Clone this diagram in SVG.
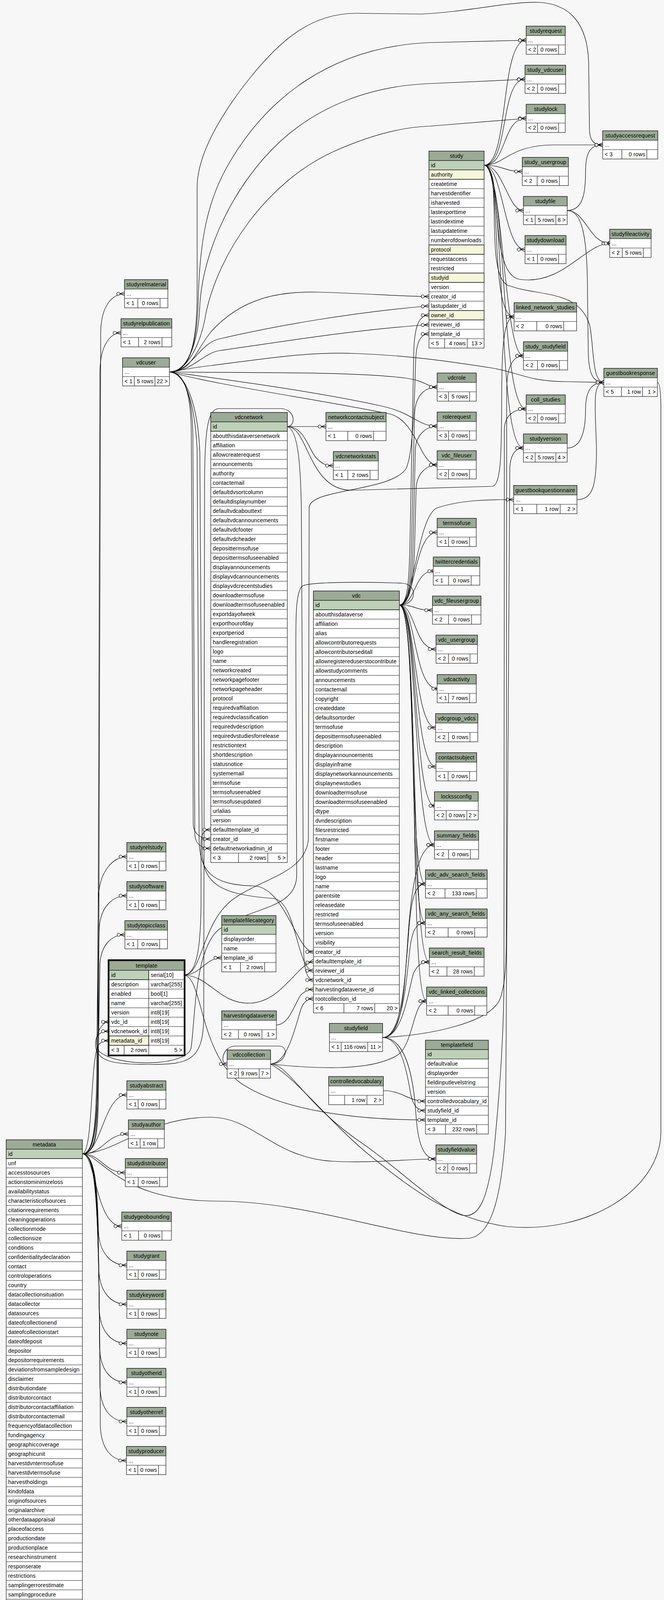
<svg xmlns="http://www.w3.org/2000/svg" width="1701" height="4556" viewBox="0 0 1701 4556">
<style>
text{font-family:"Liberation Sans",Arial,Helvetica,sans-serif;font-size:14px;letter-spacing:.2px;fill:#000}
.m{text-anchor:middle}
.r{text-anchor:end}
.t rect,.t path{stroke:#1a1a1a;stroke-width:1.2}
.t path{fill:none}
.w{fill:#fff}
.h{fill:#9bab96}
.pk{fill:#bed1b8}
.ix{fill:#f4f7da}
#connectors path{fill:none;stroke:#000;stroke-width:1.2}
#connectors .cr{marker-end:url(#crow)}
#connectors .on{marker-end:url(#one)}
</style>
<defs>
<marker id="crow" markerUnits="userSpaceOnUse" viewBox="-24 -10 30 20" markerWidth="30" markerHeight="20" refX="0" refY="0" orient="auto" overflow="visible">
<path d="M-12,0L0,-5M-12,0L0,0M-12,0L0,5" fill="none" stroke="#000" stroke-width="1.2"/>
<circle cx="-16" cy="0" r="4" fill="#f7f7f7" stroke="#000" stroke-width="1.2"/>
</marker>
<marker id="one" markerUnits="userSpaceOnUse" viewBox="-24 -10 30 20" markerWidth="30" markerHeight="20" refX="0" refY="0" orient="auto" overflow="visible">
<path d="M-6,0L0,0M-3,-5L-3,5" fill="none" stroke="#000" stroke-width="1.6"/>
<circle cx="-10" cy="0" r="4" fill="#f7f7f7" stroke="#000" stroke-width="1.2"/>
</marker>
</defs>
<rect x="0" y="0" width="1701" height="4556" fill="#f7f7f7"/>

<g id="connectors">
<path class="cr" d="M1240,423C1305,423 1280,103 1348,103"/>
<path class="cr" d="M1240,423C1305,423 1280,203 1345,203"/>
<path class="cr" d="M1240,423C1300,423 1285,303 1348,303"/>
<path class="cr" d="M1240,423C1295,423 1300,372 1420,371L1544,371"/>
<path class="cr" d="M1240,423C1290,423 1290,439 1338,439"/>
<path class="cr" d="M1240,423C1290,423 1300,539 1341,539"/>
<path class="cr" d="M1240,423C1290,423 1290,639 1345,639"/>
<path class="cr" d="M1240,423C1290,423 1250,700 1330,715C1440,732 1500,623 1562,623"/>
<path class="cr" d="M1240,423C1290,423 1250,811 1317,811"/>
<path class="cr" d="M1240,423C1290,423 1290,911 1341,911"/>
<path class="cr" d="M1240,423C1300,423 1280,1047 1348,1047"/>
<path class="cr" d="M1240,423C1300,423 1270,1147 1341,1147"/>
<path class="cr" d="M1240,423C1290,423 1240,700 1300,730C1380,760 1480,740 1510,830C1522,880 1515,979 1547,979"/>
<path class="cr" d="M434,952C480,952 505,900 505,750L505,480C505,400 560,300 640,200C720,100 800,34 912,34L1080,36C1200,30 1300,4 1380,6C1460,10 1505,60 1508,160L1510,330C1511,360 1520,371 1544,371"/>
<path class="cr" d="M434,952C480,952 505,900 508,760C512,620 530,520 580,430C680,250 850,120 1100,109L1348,103"/>
<path class="cr" d="M434,952C480,952 508,880 512,780C520,640 600,470 720,360C820,270 950,220 1100,214L1345,203"/>
<path class="cr" d="M434,952C480,952 515,880 528,800C560,650 680,470 850,390C960,340 1040,325 1100,323L1348,303"/>
<path class="cr" d="M434,952C490,952 500,900 540,850C620,760 720,745 820,748C950,752 1030,759 1099,759"/>
<path class="cr" d="M434,952C490,952 510,880 560,868C700,835 900,800 1099,783"/>
<path class="cr" d="M434,952C490,952 520,905 560,898C700,878 900,845 1099,831"/>
<path class="cr" d="M434,952C480,945 500,940 540,936C700,915 800,900 912,905C1050,910 1150,925 1266,943C1330,955 1360,977 1450,977L1547,979"/>
<path class="cr" d="M434,952C600,955 900,950 1040,968C1090,975 1095,991 1120,991"/>
<path class="cr" d="M434,952C550,968 800,1000 980,1040C1060,1058 1070,1091 1120,1091"/>
<path class="cr" d="M434,952C550,985 800,1020 1000,1060C1070,1080 1075,1190 1120,1190"/>
<path class="cr" d="M434,952C470,952 488,1000 490,1100L495,2110C496,2135 515,2148 540,2148"/>
<path class="cr" d="M434,952C472,952 492,1010 494,1110L499,2135C500,2160 515,2172 540,2172"/>
<path class="cr" d="M434,952C480,955 500,1050 505,1150L510,2150C512,2230 540,2265 650,2268C730,2270 760,2437 803,2437"/>
<path class="cr" d="M434,952C485,958 508,1060 512,1160L518,2180C520,2260 560,2290 700,2300C760,2305 760,2485 803,2485"/>
<path class="cr" d="M1023,1549C1045,1549 1048,1480 1050,1400L1060,900C1062,830 1075,807 1099,807"/>
<path class="cr" d="M1023,1549C1048,1549 1052,1480 1054,1400L1062,1060C1064,1010 1090,991 1120,991"/>
<path class="cr" d="M1023,1549C1050,1549 1056,1480 1058,1400L1064,1150C1066,1110 1095,1091 1120,1091"/>
<path class="cr" d="M1023,1549C1052,1549 1060,1480 1062,1400L1066,1250C1068,1210 1095,1190 1120,1190"/>
<path class="cr" d="M1023,1549C1060,1549 1070,1320 1120,1300C1180,1280 1250,1279 1316,1279"/>
<path class="cr" d="M1023,1549C1065,1549 1060,1363 1120,1363"/>
<path class="on" d="M1023,1549C1065,1549 1060,1462 1110,1462"/>
<path class="cr" d="M1023,1549C1065,1549 1060,1562 1108,1562"/>
<path class="cr" d="M1023,1549C1065,1549 1060,1662 1117,1662"/>
<path class="on" d="M1023,1549C1065,1549 1060,1763 1120,1763"/>
<path class="cr" d="M1023,1549C1065,1549 1060,1863 1116,1863"/>
<path class="cr" d="M1023,1549C1068,1549 1060,1963 1117,1963"/>
<path class="on" d="M1023,1549C1070,1549 1060,2063 1113,2063"/>
<path class="cr" d="M1023,1549C1070,1549 1060,2163 1113,2163"/>
<path class="cr" d="M1023,1549C1070,1549 1045,2263 1090,2263"/>
<path class="cr" d="M1023,1549C1072,1549 1045,2363 1090,2363"/>
<path class="cr" d="M1023,1549C1075,1549 1050,2463 1100,2463"/>
<path class="cr" d="M1023,1549C1078,1549 1045,2563 1093,2563"/>
<path class="cr" d="M1023,1549C1070,1549 1070,1495 1030,1493C960,1490 800,1488 775,1500C755,1515 758,1600 758,1700L760,2240C760,2330 640,2320 560,2380C500,2430 500,2600 490,2680C486,2730 300,2735 252,2690C240,2660 255,2616 280,2616"/>
<path class="cr" d="M736,1092L835,1092"/>
<path class="cr" d="M736,1092C780,1092 790,1150 810,1172C825,1188 835,1192 854,1192"/>
<path class="cr" d="M736,1092C765,1100 770,1200 772,1300L778,2440C780,2490 790,2509 803,2509"/>
<path class="cr" d="M736,1092C758,1092 758,1048 720,1046L560,1046C532,1048 524,1100 524,1250L522,2600C522,2720 480,2725 380,2725C300,2725 250,2720 245,2680C242,2650 255,2640 280,2640"/>
<path class="cr" d="M736,1092C790,1092 790,1255 900,1255L1262,1245C1290,1240 1283,1100 1286,950C1288,850 1298,811 1317,811"/>
<path class="cr" d="M471,2496C515,2496 525,2452 568,2452"/>
<path class="cr" d="M471,2496C520,2496 515,2360 600,2300C680,2245 780,2235 790,2150L792,1300C792,1250 1000,1260 1040,1200C1060,1160 1062,1000 1065,920C1067,870 1080,855 1099,855"/>
<path class="cr" d="M471,2496C540,2500 560,2570 640,2568C720,2566 760,2470 803,2461"/>
<path class="cr" d="M471,2496C505,2496 515,2420 515,2300L515,2160C515,2135 522,2124 540,2124"/>
<path class="cr" d="M471,2496C520,2500 510,2700 620,2775C720,2840 900,2867 1090,2867"/>
<path class="cr" d="M211,2954C245,2954 252,2900 252,2800L258,850C259,780 290,752 319,752"/>
<path class="cr" d="M211,2954C243,2954 250,2900 250,2800L256,950C257,880 285,852 310,852"/>
<path class="cr" d="M211,2954C240,2954 248,2880 248,2700L252,2300C254,2230 290,2193 325,2193"/>
<path class="cr" d="M211,2954C241,2954 250,2880 250,2700L254,2380C256,2320 290,2293 325,2293"/>
<path class="cr" d="M211,2954C242,2954 252,2880 252,2700L256,2470C258,2420 285,2393 320,2393"/>
<path class="cr" d="M211,2954C240,2950 230,2690 255,2672C262,2666 270,2664 280,2664"/>
<path class="cr" d="M211,2954C260,2954 265,2803 325,2803"/>
<path class="cr" d="M211,2954C265,2954 270,2903 329,2903"/>
<path class="cr" d="M211,2954C260,2954 265,3002 321,3002"/>
<path class="cr" d="M211,2954C245,2954 245,3139 312,3139"/>
<path class="cr" d="M211,2954C245,2954 250,3050 252,3149C254,3209 285,3239 325,3239"/>
<path class="cr" d="M211,2954C245,2954 251,3050 253,3249C255,3309 285,3339 325,3339"/>
<path class="cr" d="M211,2954C245,2954 252,3050 254,3349C256,3409 285,3439 325,3439"/>
<path class="cr" d="M211,2954C245,2954 253,3050 255,3449C257,3509 285,3539 325,3539"/>
<path class="cr" d="M211,2954C245,2954 254,3050 256,3549C258,3609 285,3639 325,3639"/>
<path class="cr" d="M211,2954C245,2954 255,3050 257,3649C259,3709 285,3739 324,3739"/>
<path class="cr" d="M211,2954C260,2954 300,3075 560,3075C800,3075 1050,3180 1200,3170C1260,3165 1285,3060 1295,2900L1306,1200C1307,1165 1320,1147 1341,1147"/>
<path class="cr" d="M211,2954C300,2950 380,2860 540,2860C650,2860 700,2965 855,2973C950,2978 1050,2967 1117,2967"/>
<path class="cr" d="M693,2724C740,2724 780,2827 928,2927C1020,2990 1120,3090 1180,3110C1230,3125 1250,3060 1265,2950C1280,2800 1291,2650 1291,2500L1292,1100C1293,1060 1320,1047 1348,1047"/>
<path d="M693,2724C760,2760 850,2880 950,2960C1050,3040 1150,3120 1300,3140C1500,3160 1690,3050 1693,2900L1693,1050C1693,1000 1690,979 1684,979"/>
<path class="cr" d="M693,2724C800,2735 950,2745 1020,2700C1060,2670 1058,2563 1093,2563"/>
<path class="cr" d="M693,2724C740,2720 758,2620 772,2580C780,2562 790,2557 803,2557"/>
<path class="cr" d="M693,2724C730,2724 745,2680 715,2678L600,2678C570,2680 562,2724 582,2724"/>
<path class="cr" d="M708,2624C740,2624 755,2570 770,2548C780,2537 790,2533 803,2533"/>
<path class="cr" d="M980,2656C1100,2650 1250,2620 1280,2560C1296,2520 1297,2450 1297,2400L1298,1000C1298,940 1312,911 1341,911"/>
<path class="cr" d="M980,2656C1030,2656 1035,2550 1045,2400C1055,2250 1075,2163 1113,2163"/>
<path class="cr" d="M980,2656C1030,2656 1038,2500 1046,2400C1052,2310 1060,2263 1090,2263"/>
<path class="cr" d="M980,2656C1032,2656 1042,2500 1050,2430C1056,2380 1066,2363 1090,2363"/>
<path class="cr" d="M980,2656C1035,2656 1048,2520 1060,2490C1070,2470 1080,2463 1100,2463"/>
<path class="cr" d="M980,2656C1030,2656 1045,2760 1052,2800C1058,2832 1070,2843 1090,2843"/>
<path class="cr" d="M980,2656C1040,2656 1060,2760 1066,2860C1072,2940 1090,2967 1117,2967"/>
<path class="cr" d="M982,2792C1030,2792 1045,2819 1090,2819"/>
<path class="cr" d="M1453,539C1495,539 1500,490 1500,440C1500,390 1512,371 1544,371"/>
<path class="on" d="M1453,539C1500,539 1510,623 1562,623"/>
<path class="cr" d="M1453,539C1490,539 1505,600 1505,750L1507,900C1508,960 1520,979 1547,979"/>
<path class="cr" d="M1453,1147C1490,1147 1500,1100 1500,1050C1500,1000 1515,979 1547,979"/>
<path class="cr" d="M1478,1279C1520,1279 1528,1240 1528,1150C1526,1050 1515,979 1547,979"/>
</g>

<g id="study" class="t">
<rect class="w" x="1099" y="387" width="141" height="504"/>
<rect class="h" x="1099" y="387" width="141" height="24"/>
<rect class="pk" x="1099" y="411" width="141" height="24"/>
<rect class="ix" x="1099" y="435" width="141" height="24"/>
<rect class="ix" x="1099" y="627" width="141" height="24"/>
<rect class="ix" x="1099" y="699" width="141" height="24"/>
<rect class="ix" x="1099" y="795" width="141" height="24"/>
<path d="M1099,459h141M1099,483h141M1099,507h141M1099,531h141M1099,555h141M1099,579h141M1099,603h141M1099,627h141M1099,651h141M1099,675h141M1099,699h141M1099,723h141M1099,747h141M1099,771h141M1099,795h141M1099,819h141M1099,843h141M1099,867h141M1139,867v24M1197,867v24"/>
<text class="m" x="1169.5" y="404">study</text>
<text x="1104" y="428">id</text>
<text x="1104" y="452">authority</text>
<text x="1104" y="476">createtime</text>
<text x="1104" y="500">harvestidentifier</text>
<text x="1104" y="524">isharvested</text>
<text x="1104" y="548">lastexporttime</text>
<text x="1104" y="572">lastindextime</text>
<text x="1104" y="596">lastupdatetime</text>
<text x="1104" y="620">numberofdownloads</text>
<text x="1104" y="644">protocol</text>
<text x="1104" y="668">requestaccess</text>
<text x="1104" y="692">restricted</text>
<text x="1104" y="716">studyid</text>
<text x="1104" y="740">version</text>
<text x="1104" y="764">creator_id</text>
<text x="1104" y="788">lastupdater_id</text>
<text x="1104" y="812">owner_id</text>
<text x="1104" y="836">reviewer_id</text>
<text x="1104" y="860">template_id</text>
<text x="1104" y="884">&lt; 5</text>
<text class="r" x="1193" y="884">4 rows</text>
<text class="r" x="1236" y="884">13 &gt;</text>
</g>

<g id="vdcnetwork" class="t">
<rect class="w" x="540" y="1056" width="196" height="1152"/>
<rect class="h" x="540" y="1056" width="196" height="24"/>
<rect class="pk" x="540" y="1080" width="196" height="24"/>
<path d="M540,1104h196M540,1128h196M540,1152h196M540,1176h196M540,1200h196M540,1224h196M540,1248h196M540,1272h196M540,1296h196M540,1320h196M540,1344h196M540,1368h196M540,1392h196M540,1416h196M540,1440h196M540,1464h196M540,1488h196M540,1512h196M540,1536h196M540,1560h196M540,1584h196M540,1608h196M540,1632h196M540,1656h196M540,1680h196M540,1704h196M540,1728h196M540,1752h196M540,1776h196M540,1800h196M540,1824h196M540,1848h196M540,1872h196M540,1896h196M540,1920h196M540,1944h196M540,1968h196M540,1992h196M540,2016h196M540,2040h196M540,2064h196M540,2088h196M540,2112h196M540,2136h196M540,2160h196M540,2184h196M611,2184v24M686,2184v24"/>
<text class="m" x="638" y="1073">vdcnetwork</text>
<text x="545" y="1097">id</text>
<text x="545" y="1121">aboutthisdataversenetwork</text>
<text x="545" y="1145">affiliation</text>
<text x="545" y="1169">allowcreaterequest</text>
<text x="545" y="1193">announcements</text>
<text x="545" y="1217">authority</text>
<text x="545" y="1241">contactemail</text>
<text x="545" y="1265">defaultdvsortcolumn</text>
<text x="545" y="1289">defaultdisplaynumber</text>
<text x="545" y="1313">defaultvdcabouttext</text>
<text x="545" y="1337">defaultvdcannouncements</text>
<text x="545" y="1361">defaultvdcfooter</text>
<text x="545" y="1385">defaultvdcheader</text>
<text x="545" y="1409">deposittermsofuse</text>
<text x="545" y="1433">deposittermsofuseenabled</text>
<text x="545" y="1457">displayannouncements</text>
<text x="545" y="1481">displayvdcannouncements</text>
<text x="545" y="1505">displayvdcrecentstudies</text>
<text x="545" y="1529">downloadtermsofuse</text>
<text x="545" y="1553">downloadtermsofuseenabled</text>
<text x="545" y="1577">exportdayofweek</text>
<text x="545" y="1601">exporthourofday</text>
<text x="545" y="1625">exportperiod</text>
<text x="545" y="1649">handleregistration</text>
<text x="545" y="1673">logo</text>
<text x="545" y="1697">name</text>
<text x="545" y="1721">networkcreated</text>
<text x="545" y="1745">networkpagefooter</text>
<text x="545" y="1769">networkpageheader</text>
<text x="545" y="1793">protocol</text>
<text x="545" y="1817">requiredvaffiliation</text>
<text x="545" y="1841">requiredvclassification</text>
<text x="545" y="1865">requiredvdescription</text>
<text x="545" y="1889">requiredvstudiesforrelease</text>
<text x="545" y="1913">restrictiontext</text>
<text x="545" y="1937">shortdescription</text>
<text x="545" y="1961">statusnotice</text>
<text x="545" y="1985">systememail</text>
<text x="545" y="2009">termsofuse</text>
<text x="545" y="2033">termsofuseenabled</text>
<text x="545" y="2057">termsofuseupdated</text>
<text x="545" y="2081">urlalias</text>
<text x="545" y="2105">version</text>
<text x="545" y="2129">defaulttemplate_id</text>
<text x="545" y="2153">creator_id</text>
<text x="545" y="2177">defaultnetworkadmin_id</text>
<text x="545" y="2201">&lt; 3</text>
<text class="r" x="682" y="2201">2 rows</text>
<text class="r" x="732" y="2201">5 &gt;</text>
</g>

<g id="vdc" class="t">
<rect class="w" x="803" y="1513" width="220" height="1080"/>
<rect class="h" x="803" y="1513" width="220" height="24"/>
<rect class="pk" x="803" y="1537" width="220" height="24"/>
<path d="M803,1561h220M803,1585h220M803,1609h220M803,1633h220M803,1657h220M803,1681h220M803,1705h220M803,1729h220M803,1753h220M803,1777h220M803,1801h220M803,1825h220M803,1849h220M803,1873h220M803,1897h220M803,1921h220M803,1945h220M803,1969h220M803,1993h220M803,2017h220M803,2041h220M803,2065h220M803,2089h220M803,2113h220M803,2137h220M803,2161h220M803,2185h220M803,2209h220M803,2233h220M803,2257h220M803,2281h220M803,2305h220M803,2329h220M803,2353h220M803,2377h220M803,2401h220M803,2425h220M803,2449h220M803,2473h220M803,2497h220M803,2521h220M803,2545h220M803,2569h220M881,2569v24M960,2569v24"/>
<text class="m" x="913" y="1530">vdc</text>
<text x="808" y="1554">id</text>
<text x="808" y="1578">aboutthisdataverse</text>
<text x="808" y="1602">affiliation</text>
<text x="808" y="1626">alias</text>
<text x="808" y="1650">allowcontributorrequests</text>
<text x="808" y="1674">allowcontributorseditall</text>
<text x="808" y="1698">allowregistereduserstocontribute</text>
<text x="808" y="1722">allowstudycomments</text>
<text x="808" y="1746">announcements</text>
<text x="808" y="1770">contactemail</text>
<text x="808" y="1794">copyright</text>
<text x="808" y="1818">createddate</text>
<text x="808" y="1842">defaultsortorder</text>
<text x="808" y="1866">termsofuse</text>
<text x="808" y="1890">deposittermsofuseenabled</text>
<text x="808" y="1914">description</text>
<text x="808" y="1938">displayannouncements</text>
<text x="808" y="1962">displayinframe</text>
<text x="808" y="1986">displaynetworkannouncements</text>
<text x="808" y="2010">displaynewstudies</text>
<text x="808" y="2034">downloadtermsofuse</text>
<text x="808" y="2058">downloadtermsofuseenabled</text>
<text x="808" y="2082">dtype</text>
<text x="808" y="2106">dvndescription</text>
<text x="808" y="2130">filesrestricted</text>
<text x="808" y="2154">firstname</text>
<text x="808" y="2178">footer</text>
<text x="808" y="2202">header</text>
<text x="808" y="2226">lastname</text>
<text x="808" y="2250">logo</text>
<text x="808" y="2274">name</text>
<text x="808" y="2298">parentsite</text>
<text x="808" y="2322">releasedate</text>
<text x="808" y="2346">restricted</text>
<text x="808" y="2370">termsofuseenabled</text>
<text x="808" y="2394">version</text>
<text x="808" y="2418">visibility</text>
<text x="808" y="2442">creator_id</text>
<text x="808" y="2466">defaulttemplate_id</text>
<text x="808" y="2490">reviewer_id</text>
<text x="808" y="2514">vdcnetwork_id</text>
<text x="808" y="2538">harvestingdataverse_id</text>
<text x="808" y="2562">rootcollection_id</text>
<text x="808" y="2586">&lt; 6</text>
<text class="r" x="956" y="2586">7 rows</text>
<text class="r" x="1019" y="2586">20 &gt;</text>
</g>

<g id="metadata" class="t">
<rect class="w" x="16" y="2918" width="195" height="1584"/>
<rect class="h" x="16" y="2918" width="195" height="24"/>
<rect class="pk" x="16" y="2942" width="195" height="24"/>
<path d="M16,2966h195M16,2990h195M16,3014h195M16,3038h195M16,3062h195M16,3086h195M16,3110h195M16,3134h195M16,3158h195M16,3182h195M16,3206h195M16,3230h195M16,3254h195M16,3278h195M16,3302h195M16,3326h195M16,3350h195M16,3374h195M16,3398h195M16,3422h195M16,3446h195M16,3470h195M16,3494h195M16,3518h195M16,3542h195M16,3566h195M16,3590h195M16,3614h195M16,3638h195M16,3662h195M16,3686h195M16,3710h195M16,3734h195M16,3758h195M16,3782h195M16,3806h195M16,3830h195M16,3854h195M16,3878h195M16,3902h195M16,3926h195M16,3950h195M16,3974h195M16,3998h195M16,4022h195M16,4046h195M16,4070h195M16,4094h195M16,4118h195M16,4142h195M16,4166h195M16,4190h195M16,4214h195M16,4238h195M16,4262h195M16,4286h195M16,4310h195M16,4334h195M16,4358h195M16,4382h195M16,4406h195M16,4430h195M16,4454h195M16,4478h195M76,4478v24M151,4478v24"/>
<text class="m" x="113.5" y="2935">metadata</text>
<text x="21" y="2959">id</text>
<text x="21" y="2983">unf</text>
<text x="21" y="3007">accesstosources</text>
<text x="21" y="3031">actionstominimizeloss</text>
<text x="21" y="3055">availabilitystatus</text>
<text x="21" y="3079">characteristicofsources</text>
<text x="21" y="3103">citationrequirements</text>
<text x="21" y="3127">cleaningoperations</text>
<text x="21" y="3151">collectionmode</text>
<text x="21" y="3175">collectionsize</text>
<text x="21" y="3199">conditions</text>
<text x="21" y="3223">confidentialitydeclaration</text>
<text x="21" y="3247">contact</text>
<text x="21" y="3271">controloperations</text>
<text x="21" y="3295">country</text>
<text x="21" y="3319">datacollectionsituation</text>
<text x="21" y="3343">datacollector</text>
<text x="21" y="3367">datasources</text>
<text x="21" y="3391">dateofcollectionend</text>
<text x="21" y="3415">dateofcollectionstart</text>
<text x="21" y="3439">dateofdeposit</text>
<text x="21" y="3463">depositor</text>
<text x="21" y="3487">depositorrequirements</text>
<text x="21" y="3511">deviationsfromsampledesign</text>
<text x="21" y="3535">disclaimer</text>
<text x="21" y="3559">distributiondate</text>
<text x="21" y="3583">distributorcontact</text>
<text x="21" y="3607">distributorcontactaffiliation</text>
<text x="21" y="3631">distributorcontactemail</text>
<text x="21" y="3655">frequencyofdatacollection</text>
<text x="21" y="3679">fundingagency</text>
<text x="21" y="3703">geographiccoverage</text>
<text x="21" y="3727">geographicunit</text>
<text x="21" y="3751">harvestdvntermsofuse</text>
<text x="21" y="3775">harvestdvtermsofuse</text>
<text x="21" y="3799">harvestholdings</text>
<text x="21" y="3823">kindofdata</text>
<text x="21" y="3847">originofsources</text>
<text x="21" y="3871">originalarchive</text>
<text x="21" y="3895">otherdataappraisal</text>
<text x="21" y="3919">placeofaccess</text>
<text x="21" y="3943">productiondate</text>
<text x="21" y="3967">productionplace</text>
<text x="21" y="3991">researchinstrument</text>
<text x="21" y="4015">responserate</text>
<text x="21" y="4039">restrictions</text>
<text x="21" y="4063">samplingerrorestimate</text>
<text x="21" y="4087">samplingprocedure</text>
<text x="21" y="4111">seriesinformation</text>
<text x="21" y="4135">seriesname</text>
<text x="21" y="4159">specialpermissions</text>
<text x="21" y="4183">studycompletion</text>
<text x="21" y="4207">studylevelerrornotes</text>
<text x="21" y="4231">studyversion</text>
<text x="21" y="4255">subtitle</text>
<text x="21" y="4279">timemethod</text>
<text x="21" y="4303">timeperiodcoveredend</text>
<text x="21" y="4327">timeperiodcoveredstart</text>
<text x="21" y="4351">title</text>
<text x="21" y="4375">unitofanalysis</text>
<text x="21" y="4399">universe</text>
<text x="21" y="4423">version</text>
<text x="21" y="4447">versiondate</text>
<text x="21" y="4471">weighting</text>
<text class="r" x="147" y="4495">7 rows</text>
<text class="r" x="207" y="4495">18 &gt;</text>
</g>

<g id="template" class="t">
<rect class="w" x="280" y="2460" width="191" height="240"/>
<rect class="h" x="280" y="2460" width="191" height="24"/>
<rect class="pk" x="280" y="2484" width="101" height="24"/>
<rect class="ix" x="280" y="2652" width="101" height="24"/>
<path d="M280,2508h191M280,2532h191M280,2556h191M280,2580h191M280,2604h191M280,2628h191M280,2652h191M280,2676h191M381,2484v216M318,2676v24"/>
<rect x="277.5" y="2457.5" width="196" height="245" fill="none" style="stroke:#000;stroke-width:3"/>
<text class="m" x="375.5" y="2477">template</text>
<text x="285" y="2501">id</text><text x="386" y="2501">serial[10]</text>
<text x="285" y="2525">description</text><text x="386" y="2525">varchar[255]</text>
<text x="285" y="2549">enabled</text><text x="386" y="2549">bool[1]</text>
<text x="285" y="2573">name</text><text x="386" y="2573">varchar[255]</text>
<text x="285" y="2597">version</text><text x="386" y="2597">int8[19]</text>
<text x="285" y="2621">vdc_id</text><text x="386" y="2621">int8[19]</text>
<text x="285" y="2645">vdcnetwork_id</text><text x="386" y="2645">int8[19]</text>
<text x="285" y="2669">metadata_id</text><text x="386" y="2669">int8[19]</text>
<text x="285" y="2693">&lt; 3</text>
<text class="r" x="377" y="2693">2 rows</text>
<text class="r" x="467" y="2693">5 &gt;</text>
</g>

<g id="templatefilecategory" class="t">
<rect class="w" x="568" y="2344" width="139" height="144"/>
<rect class="h" x="568" y="2344" width="139" height="24"/>
<rect class="pk" x="568" y="2368" width="139" height="24"/>
<path d="M568,2416h139M568,2440h139M568,2464h139M616,2464v24M678,2464v24"/>
<text class="m" x="637.5" y="2361">templatefilecategory</text>
<text x="573" y="2385">id</text>
<text x="573" y="2409">displayorder</text>
<text x="573" y="2433">name</text>
<text x="573" y="2457">template_id</text>
<text x="573" y="2481">&lt; 1</text>
<text class="r" x="674" y="2481">2 rows</text>
</g>

<g id="templatefield" class="t">
<rect class="w" x="1090" y="2663" width="161" height="240"/>
<rect class="h" x="1090" y="2663" width="161" height="24"/>
<rect class="pk" x="1090" y="2687" width="161" height="24"/>
<path d="M1090,2735h161M1090,2759h161M1090,2783h161M1090,2807h161M1090,2831h161M1090,2855h161M1090,2879h161M1141,2879v24M1221,2879v24"/>
<text class="m" x="1170.5" y="2680">templatefield</text>
<text x="1095" y="2704">id</text>
<text x="1095" y="2728">defaultvalue</text>
<text x="1095" y="2752">displayorder</text>
<text x="1095" y="2776">fieldinputlevelstring</text>
<text x="1095" y="2800">version</text>
<text x="1095" y="2824">controlledvocabulary_id</text>
<text x="1095" y="2848">studyfield_id</text>
<text x="1095" y="2872">template_id</text>
<text x="1095" y="2896">&lt; 3</text>
<text class="r" x="1217" y="2896">232 rows</text>
</g>

<g id="studyrequest" class="t"><rect class="w" x="1348" y="67" width="100" height="72"/><rect class="h" x="1348" y="67" width="100" height="24"/><path d="M1348,115h100M1377,115v24M1431,115v24"/><text class="m" x="1398" y="84">studyrequest</text><text x="1353" y="108">...</text><text x="1353" y="132">&lt; 2</text><text class="r" x="1427" y="132">0 rows</text></g>
<g id="study_vdcuser" class="t"><rect class="w" x="1345" y="167" width="104" height="72"/><rect class="h" x="1345" y="167" width="104" height="24"/><path d="M1345,215h104M1377,215v24M1431,215v24"/><text class="m" x="1397" y="184">study_vdcuser</text><text x="1350" y="208">...</text><text x="1350" y="232">&lt; 2</text><text class="r" x="1427" y="232">0 rows</text></g>
<g id="studylock" class="t"><rect class="w" x="1348" y="267" width="100" height="72"/><rect class="h" x="1348" y="267" width="100" height="24"/><path d="M1348,315h100M1377,315v24M1431,315v24"/><text class="m" x="1398" y="284">studylock</text><text x="1353" y="308">...</text><text x="1353" y="332">&lt; 2</text><text class="r" x="1427" y="332">0 rows</text></g>
<g id="studyaccessrequest" class="t"><rect class="w" x="1544" y="335" width="141" height="72"/><rect class="h" x="1544" y="335" width="141" height="24"/><path d="M1544,383h141M1593,383v24M1657,383v24"/><text class="m" x="1614.5" y="352">studyaccessrequest</text><text x="1549" y="376">...</text><text x="1549" y="400">&lt; 3</text><text class="r" x="1653" y="400">0 rows</text></g>
<g id="study_usergroup" class="t"><rect class="w" x="1338" y="403" width="118" height="72"/><rect class="h" x="1338" y="403" width="118" height="24"/><path d="M1338,451h118M1376,451v24M1433,451v24"/><text class="m" x="1397" y="420">study_usergroup</text><text x="1343" y="444">...</text><text x="1343" y="468">&lt; 2</text><text class="r" x="1429" y="468">0 rows</text></g>
<g id="studyfile" class="t"><rect class="w" x="1341" y="503" width="112" height="72"/><rect class="h" x="1341" y="503" width="112" height="24"/><path d="M1341,551h112M1371,551v24M1424,551v24"/><text class="m" x="1397" y="520">studyfile</text><text x="1346" y="544">...</text><text x="1346" y="568">&lt; 1</text><text class="r" x="1420" y="568">5 rows</text><text class="r" x="1449" y="568">8 &gt;</text></g>
<g id="studydownload" class="t"><rect class="w" x="1345" y="603" width="105" height="72"/><rect class="h" x="1345" y="603" width="105" height="24"/><path d="M1345,651h105M1377,651v24M1431,651v24"/><text class="m" x="1397.5" y="620">studydownload</text><text x="1350" y="644">...</text><text x="1350" y="668">&lt; 1</text><text class="r" x="1427" y="668">0 rows</text></g>
<g id="studyfileactivity" class="t"><rect class="w" x="1562" y="587" width="106" height="72"/><rect class="h" x="1562" y="587" width="106" height="24"/><path d="M1562,635h106M1594,635v24M1648,635v24"/><text class="m" x="1615" y="604">studyfileactivity</text><text x="1567" y="628">...</text><text x="1567" y="652">&lt; 2</text><text class="r" x="1644" y="652">5 rows</text></g>
<g id="linked_network_studies" class="t"><rect class="w" x="1317" y="775" width="160" height="72"/><rect class="h" x="1317" y="775" width="160" height="24"/><path d="M1317,823h160M1375,823v24M1444,823v24"/><text class="m" x="1397" y="792">linked_network_studies</text><text x="1322" y="816">...</text><text x="1322" y="840">&lt; 2</text><text class="r" x="1440" y="840">0 rows</text></g>
<g id="study_studyfield" class="t"><rect class="w" x="1341" y="875" width="113" height="72"/><rect class="h" x="1341" y="875" width="113" height="24"/><path d="M1341,923h113M1377,923v24M1433,923v24"/><text class="m" x="1397.5" y="892">study_studyfield</text><text x="1346" y="916">...</text><text x="1346" y="940">&lt; 2</text><text class="r" x="1429" y="940">0 rows</text></g>
<g id="vdcrole" class="t"><rect class="w" x="1120" y="955" width="100" height="72"/><rect class="h" x="1120" y="955" width="100" height="24"/><path d="M1120,1003h100M1149,1003v24M1203,1003v24"/><text class="m" x="1170" y="972">vdcrole</text><text x="1125" y="996">...</text><text x="1125" y="1020">&lt; 3</text><text class="r" x="1199" y="1020">5 rows</text></g>
<g id="rolerequest" class="t"><rect class="w" x="1120" y="1055" width="100" height="72"/><rect class="h" x="1120" y="1055" width="100" height="24"/><path d="M1120,1103h100M1149,1103v24M1203,1103v24"/><text class="m" x="1170" y="1072">rolerequest</text><text x="1125" y="1096">...</text><text x="1125" y="1120">&lt; 3</text><text class="r" x="1199" y="1120">0 rows</text></g>
<g id="vdc_fileuser" class="t"><rect class="w" x="1120" y="1154" width="100" height="72"/><rect class="h" x="1120" y="1154" width="100" height="24"/><path d="M1120,1202h100M1149,1202v24M1203,1202v24"/><text class="m" x="1170" y="1171">vdc_fileuser</text><text x="1125" y="1195">...</text><text x="1125" y="1219">&lt; 2</text><text class="r" x="1199" y="1219">0 rows</text></g>
<g id="coll_studies" class="t"><rect class="w" x="1348" y="1011" width="100" height="72"/><rect class="h" x="1348" y="1011" width="100" height="24"/><path d="M1348,1059h100M1377,1059v24M1431,1059v24"/><text class="m" x="1398" y="1028">coll_studies</text><text x="1353" y="1052">...</text><text x="1353" y="1076">&lt; 2</text><text class="r" x="1427" y="1076">0 rows</text></g>
<g id="studyversion" class="t"><rect class="w" x="1341" y="1111" width="112" height="72"/><rect class="h" x="1341" y="1111" width="112" height="24"/><path d="M1341,1159h112M1371,1159v24M1424,1159v24"/><text class="m" x="1397" y="1128">studyversion</text><text x="1346" y="1152">...</text><text x="1346" y="1176">&lt; 2</text><text class="r" x="1420" y="1176">5 rows</text><text class="r" x="1449" y="1176">4 &gt;</text></g>
<g id="guestbookresponse" class="t"><rect class="w" x="1547" y="943" width="137" height="72"/><rect class="h" x="1547" y="943" width="137" height="24"/><path d="M1547,991h137M1592,991v24M1646,991v24"/><text class="m" x="1615.5" y="960">guestbookresponse</text><text x="1552" y="984">...</text><text x="1552" y="1008">&lt; 5</text><text class="r" x="1642" y="1008">1 row</text><text class="r" x="1680" y="1008">1 &gt;</text></g>
<g id="guestbookquestionnaire" class="t"><rect class="w" x="1316" y="1243" width="162" height="72"/><rect class="h" x="1316" y="1243" width="162" height="24"/><path d="M1316,1291h162M1375,1291v24M1435,1291v24"/><text class="m" x="1397" y="1260">guestbookquestionnaire</text><text x="1321" y="1284">...</text><text x="1321" y="1308">&lt; 1</text><text class="r" x="1431" y="1308">1 row</text><text class="r" x="1474" y="1308">2 &gt;</text></g>
<g id="termsofuse" class="t"><rect class="w" x="1120" y="1327" width="100" height="72"/><rect class="h" x="1120" y="1327" width="100" height="24"/><path d="M1120,1375h100M1149,1375v24M1203,1375v24"/><text class="m" x="1170" y="1344">termsofuse</text><text x="1125" y="1368">...</text><text x="1125" y="1392">&lt; 1</text><text class="r" x="1199" y="1392">0 rows</text></g>
<g id="twittercredentials" class="t"><rect class="w" x="1110" y="1426" width="119" height="72"/><rect class="h" x="1110" y="1426" width="119" height="24"/><path d="M1110,1474h119M1149,1474v24M1207,1474v24"/><text class="m" x="1169.5" y="1443">twittercredentials</text><text x="1115" y="1467">...</text><text x="1115" y="1491">&lt; 1</text><text class="r" x="1203" y="1491">0 rows</text></g>
<g id="vdc_fileusergroup" class="t"><rect class="w" x="1108" y="1526" width="124" height="72"/><rect class="h" x="1108" y="1526" width="124" height="24"/><path d="M1108,1574h124M1149,1574v24M1208,1574v24"/><text class="m" x="1170" y="1543">vdc_fileusergroup</text><text x="1113" y="1567">...</text><text x="1113" y="1591">&lt; 2</text><text class="r" x="1204" y="1591">0 rows</text></g>
<g id="vdc_usergroup" class="t"><rect class="w" x="1117" y="1626" width="106" height="72"/><rect class="h" x="1117" y="1626" width="106" height="24"/><path d="M1117,1674h106M1149,1674v24M1204,1674v24"/><text class="m" x="1170" y="1643">vdc_usergroup</text><text x="1122" y="1667">...</text><text x="1122" y="1691">&lt; 2</text><text class="r" x="1200" y="1691">0 rows</text></g>
<g id="vdcactivity" class="t"><rect class="w" x="1120" y="1727" width="100" height="72"/><rect class="h" x="1120" y="1727" width="100" height="24"/><path d="M1120,1775h100M1149,1775v24M1203,1775v24"/><text class="m" x="1170" y="1744">vdcactivity</text><text x="1125" y="1768">...</text><text x="1125" y="1792">&lt; 1</text><text class="r" x="1199" y="1792">7 rows</text></g>
<g id="vdcgroup_vdcs" class="t"><rect class="w" x="1116" y="1827" width="108" height="72"/><rect class="h" x="1116" y="1827" width="108" height="24"/><path d="M1116,1875h108M1149,1875v24M1204,1875v24"/><text class="m" x="1170" y="1844">vdcgroup_vdcs</text><text x="1121" y="1868">...</text><text x="1121" y="1892">&lt; 2</text><text class="r" x="1200" y="1892">0 rows</text></g>
<g id="contactsubject" class="t"><rect class="w" x="1117" y="1927" width="104" height="72"/><rect class="h" x="1117" y="1927" width="104" height="24"/><path d="M1117,1975h104M1148,1975v24M1203,1975v24"/><text class="m" x="1169" y="1944">contactsubject</text><text x="1122" y="1968">...</text><text x="1122" y="1992">&lt; 1</text><text class="r" x="1199" y="1992">0 rows</text></g>
<g id="lockssconfig" class="t"><rect class="w" x="1113" y="2027" width="112" height="72"/><rect class="h" x="1113" y="2027" width="112" height="24"/><path d="M1113,2075h112M1143,2075v24M1196,2075v24"/><text class="m" x="1169" y="2044">lockssconfig</text><text x="1118" y="2068">...</text><text x="1118" y="2092">&lt; 2</text><text class="r" x="1192" y="2092">0 rows</text><text class="r" x="1221" y="2092">2 &gt;</text></g>
<g id="summary_fields" class="t"><rect class="w" x="1113" y="2127" width="113" height="72"/><rect class="h" x="1113" y="2127" width="113" height="24"/><path d="M1113,2175h113M1149,2175v24M1205,2175v24"/><text class="m" x="1169.5" y="2144">summary_fields</text><text x="1118" y="2168">...</text><text x="1118" y="2192">&lt; 2</text><text class="r" x="1201" y="2192">0 rows</text></g>
<g id="vdc_adv_search_fields" class="t"><rect class="w" x="1090" y="2227" width="158" height="72"/><rect class="h" x="1090" y="2227" width="158" height="24"/><path d="M1090,2275h158M1140,2275v24M1220,2275v24"/><text class="m" x="1169" y="2244">vdc_adv_search_fields</text><text x="1095" y="2268">...</text><text x="1095" y="2292">&lt; 2</text><text class="r" x="1216" y="2292">133 rows</text></g>
<g id="vdc_any_search_fields" class="t"><rect class="w" x="1090" y="2327" width="158" height="72"/><rect class="h" x="1090" y="2327" width="158" height="24"/><path d="M1090,2375h158M1148,2375v24M1216,2375v24"/><text class="m" x="1169" y="2344">vdc_any_search_fields</text><text x="1095" y="2368">...</text><text x="1095" y="2392">&lt; 2</text><text class="r" x="1212" y="2392">0 rows</text></g>
<g id="search_result_fields" class="t"><rect class="w" x="1100" y="2427" width="140" height="72"/><rect class="h" x="1100" y="2427" width="140" height="24"/><path d="M1100,2475h140M1145,2475v24M1215,2475v24"/><text class="m" x="1170" y="2444">search_result_fields</text><text x="1105" y="2468">...</text><text x="1105" y="2492">&lt; 2</text><text class="r" x="1211" y="2492">28 rows</text></g>
<g id="vdc_linked_collections" class="t"><rect class="w" x="1093" y="2527" width="154" height="72"/><rect class="h" x="1093" y="2527" width="154" height="24"/><path d="M1093,2575h154M1148,2575v24M1216,2575v24"/><text class="m" x="1170" y="2544">vdc_linked_collections</text><text x="1098" y="2568">...</text><text x="1098" y="2592">&lt; 2</text><text class="r" x="1212" y="2592">0 rows</text></g>
<g id="studyrelmaterial" class="t"><rect class="w" x="319" y="716" width="111" height="72"/><rect class="h" x="319" y="716" width="111" height="24"/><path d="M319,764h111M353,764v24M410,764v24"/><text class="m" x="374.5" y="733">studyrelmaterial</text><text x="324" y="757">...</text><text x="324" y="781">&lt; 1</text><text class="r" x="406" y="781">0 rows</text></g>
<g id="studyrelpublication" class="t"><rect class="w" x="310" y="816" width="130" height="72"/><rect class="h" x="310" y="816" width="130" height="24"/><path d="M310,864h130M355,864v24M415,864v24"/><text class="m" x="375" y="833">studyrelpublication</text><text x="315" y="857">...</text><text x="315" y="881">&lt; 1</text><text class="r" x="411" y="881">2 rows</text></g>
<g id="vdcuser" class="t"><rect class="w" x="314" y="916" width="120" height="72"/><rect class="h" x="314" y="916" width="120" height="24"/><path d="M314,964h120M344,964v24M397,964v24"/><text class="m" x="374" y="933">vdcuser</text><text x="319" y="957">...</text><text x="319" y="981">&lt; 1</text><text class="r" x="393" y="981">5 rows</text><text class="r" x="430" y="981">22 &gt;</text></g>
<g id="networkcontactsubject" class="t"><rect class="w" x="835" y="1056" width="154" height="72"/><rect class="h" x="835" y="1056" width="154" height="24"/><path d="M835,1104h154M891,1104v24M957,1104v24"/><text class="m" x="912" y="1073">networkcontactsubject</text><text x="840" y="1097">...</text><text x="840" y="1121">&lt; 1</text><text class="r" x="953" y="1121">0 rows</text></g>
<g id="vdcnetworkstats" class="t"><rect class="w" x="854" y="1156" width="115" height="72"/><rect class="h" x="854" y="1156" width="115" height="24"/><path d="M854,1204h115M891,1204v24M948,1204v24"/><text class="m" x="911.5" y="1173">vdcnetworkstats</text><text x="859" y="1197">...</text><text x="859" y="1221">&lt; 1</text><text class="r" x="944" y="1221">2 rows</text></g>
<g id="studyrelstudy" class="t"><rect class="w" x="325" y="2157" width="100" height="72"/><rect class="h" x="325" y="2157" width="100" height="24"/><path d="M325,2205h100M355,2205v24M408,2205v24"/><text class="m" x="375" y="2174">studyrelstudy</text><text x="330" y="2198">...</text><text x="330" y="2222">&lt; 1</text><text class="r" x="404" y="2222">0 rows</text></g>
<g id="studysoftware" class="t"><rect class="w" x="325" y="2257" width="100" height="72"/><rect class="h" x="325" y="2257" width="100" height="24"/><path d="M325,2305h100M355,2305v24M408,2305v24"/><text class="m" x="375" y="2274">studysoftware</text><text x="330" y="2298">...</text><text x="330" y="2322">&lt; 1</text><text class="r" x="404" y="2322">0 rows</text></g>
<g id="studytopicclass" class="t"><rect class="w" x="320" y="2357" width="109" height="72"/><rect class="h" x="320" y="2357" width="109" height="24"/><path d="M320,2405h109M353,2405v24M409,2405v24"/><text class="m" x="374.5" y="2374">studytopicclass</text><text x="325" y="2398">...</text><text x="325" y="2422">&lt; 1</text><text class="r" x="405" y="2422">0 rows</text></g>
<g id="harvestingdataverse" class="t"><rect class="w" x="568" y="2588" width="140" height="72"/><rect class="h" x="568" y="2588" width="140" height="24"/><path d="M568,2636h140M611,2636v24M671,2636v24"/><text class="m" x="638" y="2605">harvestingdataverse</text><text x="573" y="2629">...</text><text x="573" y="2653">&lt; 2</text><text class="r" x="667" y="2653">0 rows</text><text class="r" x="704" y="2653">1 &gt;</text></g>
<g id="studyfield" class="t"><rect class="w" x="844" y="2620" width="136" height="72"/><rect class="h" x="844" y="2620" width="136" height="24"/><path d="M844,2668h136M874,2668v24M942,2668v24"/><text class="m" x="912" y="2637">studyfield</text><text x="849" y="2661">...</text><text x="849" y="2685">&lt; 1</text><text class="r" x="938" y="2685">116 rows</text><text class="r" x="976" y="2685">11 &gt;</text></g>
<g id="vdccollection" class="t"><rect class="w" x="582" y="2688" width="111" height="72"/><rect class="h" x="582" y="2688" width="111" height="24"/><path d="M582,2736h111M611,2736v24M664,2736v24"/><text class="m" x="637.5" y="2705">vdccollection</text><text x="587" y="2729">...</text><text x="587" y="2753">&lt; 2</text><text class="r" x="660" y="2753">9 rows</text><text class="r" x="689" y="2753">7 &gt;</text></g>
<g id="controlledvocabulary" class="t"><rect class="w" x="842" y="2756" width="140" height="72"/><rect class="h" x="842" y="2756" width="140" height="24"/><path d="M842,2804h140M883,2804v24M940,2804v24"/><text class="m" x="912" y="2773">controlledvocabulary</text><text x="847" y="2797">...</text><text class="r" x="936" y="2821">1 row</text><text class="r" x="978" y="2821">2 &gt;</text></g>
<g id="studyfieldvalue" class="t"><rect class="w" x="1117" y="2931" width="104" height="72"/><rect class="h" x="1117" y="2931" width="104" height="24"/><path d="M1117,2979h104M1147,2979v24M1203,2979v24"/><text class="m" x="1169" y="2948">studyfieldvalue</text><text x="1122" y="2972">...</text><text x="1122" y="2996">&lt; 2</text><text class="r" x="1199" y="2996">0 rows</text></g>
<g id="studyabstract" class="t"><rect class="w" x="325" y="2767" width="100" height="72"/><rect class="h" x="325" y="2767" width="100" height="24"/><path d="M325,2815h100M354,2815v24M408,2815v24"/><text class="m" x="375" y="2784">studyabstract</text><text x="330" y="2808">...</text><text x="330" y="2832">&lt; 1</text><text class="r" x="404" y="2832">0 rows</text></g>
<g id="studyauthor" class="t"><rect class="w" x="329" y="2867" width="92" height="72"/><rect class="h" x="329" y="2867" width="92" height="24"/><path d="M329,2915h92M359,2915v24M404,2915v24"/><text class="m" x="375" y="2884">studyauthor</text><text x="334" y="2908">...</text><text x="334" y="2932">&lt; 1</text><text class="r" x="400" y="2932">1 row</text></g>
<g id="studydistributor" class="t"><rect class="w" x="321" y="2966" width="108" height="72"/><rect class="h" x="321" y="2966" width="108" height="24"/><path d="M321,3014h108M354,3014v24M409,3014v24"/><text class="m" x="375" y="2983">studydistributor</text><text x="326" y="3007">...</text><text x="326" y="3031">&lt; 1</text><text class="r" x="405" y="3031">0 rows</text></g>
<g id="studygeobounding" class="t"><rect class="w" x="312" y="3103" width="127" height="72"/><rect class="h" x="312" y="3103" width="127" height="24"/><path d="M312,3151h127M355,3151v24M415,3151v24"/><text class="m" x="375.5" y="3120">studygeobounding</text><text x="317" y="3144">...</text><text x="317" y="3168">&lt; 1</text><text class="r" x="411" y="3168">0 rows</text></g>
<g id="studygrant" class="t"><rect class="w" x="325" y="3203" width="100" height="72"/><rect class="h" x="325" y="3203" width="100" height="24"/><path d="M325,3251h100M354,3251v24M408,3251v24"/><text class="m" x="375" y="3220">studygrant</text><text x="330" y="3244">...</text><text x="330" y="3268">&lt; 1</text><text class="r" x="404" y="3268">0 rows</text></g>
<g id="studykeyword" class="t"><rect class="w" x="325" y="3303" width="100" height="72"/><rect class="h" x="325" y="3303" width="100" height="24"/><path d="M325,3351h100M354,3351v24M408,3351v24"/><text class="m" x="375" y="3320">studykeyword</text><text x="330" y="3344">...</text><text x="330" y="3368">&lt; 1</text><text class="r" x="404" y="3368">0 rows</text></g>
<g id="studynote" class="t"><rect class="w" x="325" y="3403" width="100" height="72"/><rect class="h" x="325" y="3403" width="100" height="24"/><path d="M325,3451h100M354,3451v24M408,3451v24"/><text class="m" x="375" y="3420">studynote</text><text x="330" y="3444">...</text><text x="330" y="3468">&lt; 1</text><text class="r" x="404" y="3468">0 rows</text></g>
<g id="studyotherid" class="t"><rect class="w" x="325" y="3503" width="100" height="72"/><rect class="h" x="325" y="3503" width="100" height="24"/><path d="M325,3551h100M354,3551v24M408,3551v24"/><text class="m" x="375" y="3520">studyotherid</text><text x="330" y="3544">...</text><text x="330" y="3568">&lt; 1</text><text class="r" x="404" y="3568">0 rows</text></g>
<g id="studyotherref" class="t"><rect class="w" x="325" y="3603" width="100" height="72"/><rect class="h" x="325" y="3603" width="100" height="24"/><path d="M325,3651h100M354,3651v24M408,3651v24"/><text class="m" x="375" y="3620">studyotherref</text><text x="330" y="3644">...</text><text x="330" y="3668">&lt; 1</text><text class="r" x="404" y="3668">0 rows</text></g>
<g id="studyproducer" class="t"><rect class="w" x="324" y="3703" width="101" height="72"/><rect class="h" x="324" y="3703" width="101" height="24"/><path d="M324,3751h101M353,3751v24M406,3751v24"/><text class="m" x="374.5" y="3720">studyproducer</text><text x="329" y="3744">...</text><text x="329" y="3768">&lt; 1</text><text class="r" x="402" y="3768">0 rows</text></g>

<text x="17" y="4542">Generated by SchemaSpy</text>
</svg>
